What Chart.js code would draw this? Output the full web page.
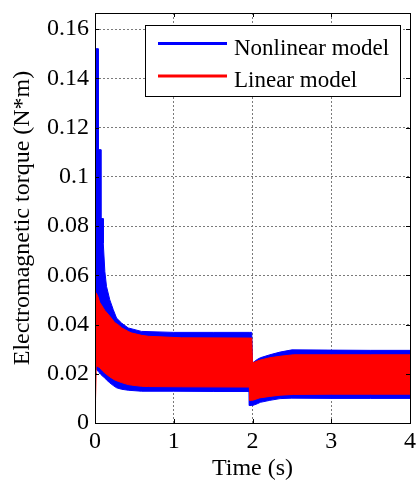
<!DOCTYPE html>
<html><head><meta charset="utf-8">
<script src="https://cdn.jsdelivr.net/npm/chart.js@4.4.0/dist/chart.umd.min.js"></script>
<style>html,body{margin:0;padding:0;background:#fff}canvas{display:block}</style>
</head><body>
<canvas id="c" width="417" height="487"></canvas>
<script>
// ---- data ----
const seriesNames = ['Nonlinear model', 'Linear model'];
const xTicks = [0, 1, 2, 3, 4];
const yTicks = [0, 0.02, 0.04, 0.06, 0.08, 0.1, 0.12, 0.14, 0.16];

// Nonlinear model: envelope (upper / lower) of the fast oscillation
const blueTime = [0, 0.04, 0.041, 0.074, 0.075, 0.104, 0.105, 0.125, 0.146, 0.188, 0.232, 0.274, 0.337, 0.422, 0.59, 1.0, 1.5, 1.957, 1.96, 1.99, 2.0, 2.06, 2.1, 2.22, 2.35, 2.5, 3.0, 3.5, 4.0];
const blueHigh = [0.152, 0.152, 0.111, 0.111, 0.083, 0.083, 0.073, 0.0615, 0.0555, 0.050, 0.046, 0.0426, 0.0406, 0.0386, 0.0372, 0.0368, 0.0368, 0.0368, 0.0368, 0.0368, 0.0244, 0.0258, 0.0265, 0.0277, 0.0288, 0.0297, 0.0296, 0.0295, 0.0295];
const blueLow = [0.0222, 0.021, 0.021, 0.0197, 0.0197, 0.0188, 0.0188, 0.0183, 0.0175, 0.0163, 0.0152, 0.0143, 0.0137, 0.0133, 0.0129, 0.0129, 0.0128, 0.0128, 0.0071, 0.0071, 0.0071, 0.0078, 0.0084, 0.0092, 0.0099, 0.0101, 0.0100, 0.0100, 0.0100];

// Linear model: envelope (upper / lower)
const redTime = [0, 0.012, 0.015, 0.035, 0.06, 0.1, 0.125, 0.19, 0.25, 0.297, 0.34, 0.422, 0.46, 0.59, 0.68, 1.1, 1.96, 1.965, 1.99, 2.0, 2.09, 2.22, 2.35, 2.52, 3.0, 3.5, 4.0];
const redHigh = [0.0528, 0.0528, 0.0528, 0.0515, 0.049, 0.047, 0.0457, 0.0433, 0.0408, 0.0398, 0.0386, 0.0372, 0.0366, 0.0356, 0.0352, 0.0346, 0.0345, 0.0345, 0.0345, 0.0244, 0.0255, 0.0265, 0.0271, 0.0277, 0.0277, 0.0277, 0.0277];
const redLow = [0, 0, 0.023, 0.0229, 0.0225, 0.021, 0.0203, 0.0187, 0.0175, 0.0169, 0.0164, 0.0156, 0.0154, 0.0149, 0.0148, 0.0147, 0.0146, 0.0092, 0.0092, 0.0092, 0.0102, 0.0108, 0.0113, 0.0116, 0.0117, 0.0117, 0.0117];

const BLUE = '#0000ff', RED = '#ff0000';
const pts = (t, v) => t.map((x, i) => ({x, y: v[i]}));

Chart.defaults.font.family = '"Liberation Serif", "Times New Roman", serif';
Chart.defaults.color = '#000';

const fmt = v => String(Number(v.toFixed(2)));

const frame = {
  id: 'frame',
  afterDraw(chart) {
    const {ctx, chartArea: a, scales: {x, y}} = chart;
    ctx.save();
    ctx.strokeStyle = '#000';
    ctx.lineWidth = 1;
    ctx.beginPath();
    yTicks.forEach(v => {
      const py = Math.round(y.getPixelForValue(v)) + 0.5;
      ctx.moveTo(a.left, py); ctx.lineTo(a.left + 4, py);
      ctx.moveTo(a.right, py); ctx.lineTo(a.right - 4, py);
    });
    xTicks.forEach(v => {
      const px = Math.round(x.getPixelForValue(v)) + 0.5;
      ctx.moveTo(px, a.bottom); ctx.lineTo(px, a.bottom - 4);
      ctx.moveTo(px, a.top); ctx.lineTo(px, a.top + 4);
    });
    ctx.stroke();
    ctx.strokeRect(Math.round(a.left) + 0.5, Math.round(a.top) + 0.5, Math.round(a.right - a.left), Math.round(a.bottom - a.top));
    // legend
    const bx = 145.5, by = 25.5, bw = 255, bh = 71;
    ctx.fillStyle = '#fff';
    ctx.fillRect(bx, by, bw, bh);
    ctx.strokeRect(bx, by, bw, bh);
    const colors = [BLUE, RED];
    const lineYs = [43.5, 76];
    const textYs = [55, 87];
    ctx.font = '23px "Liberation Serif", "Times New Roman", serif';
    ctx.textBaseline = 'alphabetic';
    ctx.textAlign = 'left';
    seriesNames.forEach((name, i) => {
      ctx.strokeStyle = colors[i];
      ctx.lineWidth = 3;
      ctx.beginPath();
      ctx.moveTo(158, lineYs[i]); ctx.lineTo(227, lineYs[i]);
      ctx.stroke();
      ctx.fillStyle = '#000';
      ctx.fillText(name, 234, textYs[i]);
    });
    ctx.restore();
  }
};

new Chart(document.getElementById('c'), {
  type: 'line',
  data: {
    datasets: [
      {label: seriesNames[1], data: pts(redTime, redHigh), borderColor: RED, backgroundColor: RED, borderWidth: 1, pointRadius: 0, fill: '+1', tension: 0},
      {label: seriesNames[1] + ' low', data: pts(redTime, redLow), borderColor: RED, backgroundColor: RED, borderWidth: 1, pointRadius: 0, fill: false, tension: 0},
      {label: seriesNames[0], data: pts(blueTime, blueHigh), borderColor: BLUE, backgroundColor: BLUE, borderWidth: 1, pointRadius: 0, fill: '+1', tension: 0},
      {label: seriesNames[0] + ' low', data: pts(blueTime, blueLow), borderColor: BLUE, backgroundColor: BLUE, borderWidth: 1, pointRadius: 0, fill: false, tension: 0}
    ]
  },
  options: {
    responsive: false,
    animation: false,
    events: [],
    layout: {padding: {top: 13, right: 7, left: 0, bottom: 0}},
    plugins: {legend: {display: false}, tooltip: {enabled: false}},
    scales: {
      x: {
        type: 'linear', min: 0, max: 4,
        afterBuildTicks: s => { s.ticks = xTicks.map(v => ({value: v})); },
        afterFit: s => { s.height = 64; s.paddingLeft = 0; s.paddingRight = 0; },
        ticks: {font: {size: 24}, padding: 4, maxRotation: 0, callback: v => fmt(v)},
        grid: {color: '#7a7a7a', lineWidth: 1, drawTicks: false},
        border: {display: false, dash: [2, 2]},
        title: {display: true, text: 'Time (s)', font: {size: 24}, padding: {top: 0, bottom: 4}}
      },
      y: {
        type: 'linear', min: 0, max: 0.1665,
        afterBuildTicks: s => { s.ticks = yTicks.map(v => ({value: v})); },
        afterFit: s => { s.width = 95; s.paddingTop = 0; s.paddingBottom = 0; },
        ticks: {font: {size: 24}, padding: 6, callback: v => fmt(v)},
        grid: {color: '#7a7a7a', lineWidth: 1, drawTicks: false},
        border: {display: false, dash: [2, 2]},
        title: {display: true, text: 'Electromagnetic torque (N*m)', font: {size: 24}, padding: {top: 8, bottom: 0}}
      }
    }
  },
  plugins: [frame]
});
</script>
</body></html>
